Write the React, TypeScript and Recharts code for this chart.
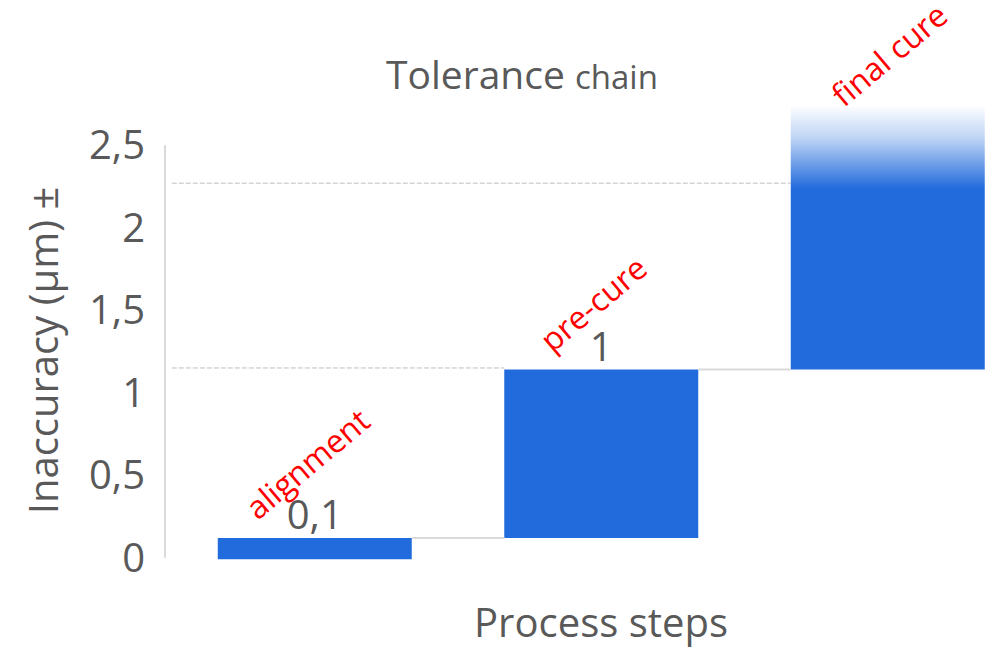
import React from 'react';
import { ComposedChart, Bar, XAxis, YAxis, ReferenceLine, LabelList, Cell } from 'recharts';

// ---- data ----
const categories = ['alignment', 'pre-cure', 'final cure'];
const positions = [0, 1, 2];
const lows = [-0.01, 0.12, 1.14];
const highs = [0.12, 1.14, 2.73];
const valueLabels = ['0,1', '1', ''];
const yTicks = [0, 0.5, 1, 1.5, 2, 2.5];
const dashedLevels = [1.15, 2.27];
const dashedStarts = [-0.5, -0.5];
const dashedEnds = [0.661, 1.661];
const connectorLevels = [0.12, 1.14];
const connectorStarts = [0.339, 1.339];
const connectorEnds = [0.661, 1.661];

const data = categories.map((name, i) => ({
  name,
  pos: positions[i],
  range: [lows[i], highs[i]],
  valueLabel: valueLabels[i],
}));

// ---- style ----
const BLUE = '#226BDC';
const GRAY_TEXT = '#595959';
const FONT = '"Open Sans", "Noto Sans", sans-serif';
const X_DOMAIN: [number, number] = [-0.5236, 2.356];
const Y_DOMAIN: [number, number] = [-0.02, 2.75];
const redOffsets = [
  [40, -17],
  [48, -16],
  [53, 1],
];

const ValueLabel = (props: any) => {
  const { x, y, width, value } = props;
  if (!value) return null;
  return (
    <text x={x + width / 2} y={y - 9} textAnchor="middle" fill={GRAY_TEXT} fontSize={40} fontFamily={FONT}>
      {value}
    </text>
  );
};

const RedLabel = (props: any) => {
  const { x, y, value, index } = props;
  const off = redOffsets[index] || [38, -15];
  return (
    <text
      transform={`translate(${x + off[0]},${y + off[1]}) rotate(-40)`}
      fill="#FF0000"
      fontSize={32}
      fontFamily={FONT}
    >
      {value}
    </text>
  );
};

const YLabel = (props: any) => {
  const vb = props.viewBox || {};
  const cx = vb.x + 42;
  const cy = vb.y + vb.height / 2 + 18;
  return (
    <text
      transform={`translate(${cx},${cy}) rotate(-90)`}
      textAnchor="middle"
      dominantBaseline="central"
      fill={GRAY_TEXT}
      fontSize={40}
      fontFamily={FONT}
    >
      Inaccuracy (µm) ±
    </text>
  );
};

const XLabel = (props: any) => {
  const vb = props.viewBox || {};
  return (
    <text x={vb.x + 436} y={vb.y + 76} textAnchor="middle" fill={GRAY_TEXT} fontSize={40} fontFamily={FONT}>
      Process steps
    </text>
  );
};

export default function App() {
  return (
    <div style={{ position: 'absolute', left: 0, top: 0, width: 996, height: 648, background: '#fff' }}>
      <ComposedChart
        width={996}
        height={648}
        data={data}
        margin={{ top: 104, right: 6, bottom: 0, left: 0 }}
      >
        <defs>
          <linearGradient id="fadeTop" x1="0" y1="0" x2="0" y2="1">
            <stop offset="0" stopColor={BLUE} stopOpacity={0.02} />
            <stop offset="0.12" stopColor={BLUE} stopOpacity={0.3} />
            <stop offset="0.31" stopColor={BLUE} stopOpacity={1} />
            <stop offset="1" stopColor={BLUE} stopOpacity={1} />
          </linearGradient>
        </defs>
        <text x={522} y={89} textAnchor="middle" fill={GRAY_TEXT} fontFamily={FONT}>
          <tspan fontSize={39}>Tolerance </tspan>
          <tspan fontSize={33}>chain</tspan>
        </text>
        <XAxis
          dataKey="pos"
          type="number"
          domain={X_DOMAIN}
          ticks={positions}
          tick={false}
          tickLine={false}
          axisLine={false}
          height={87}
          label={<XLabel />}
        />
        <YAxis
          type="number"
          domain={Y_DOMAIN}
          ticks={yTicks}
          width={165}
          axisLine={false}
          tickLine={false}
          tickMargin={14}
          tick={{ fill: GRAY_TEXT, fontSize: 40, fontFamily: FONT }}
          tickFormatter={(v: number) => String(v).replace('.', ',')}
          label={<YLabel />}
        />
        <ReferenceLine
          segment={[{ x: X_DOMAIN[0], y: 0 }, { x: X_DOMAIN[0], y: 2.5 }]}
          stroke="#D9D9D9"
          strokeWidth={2}
          ifOverflow="visible"
        />
        {dashedLevels.map((lv, i) => (
          <ReferenceLine
            key={'d' + i}
            segment={[{ x: dashedStarts[i], y: lv }, { x: dashedEnds[i], y: lv }]}
            stroke="#BFBFBF"
            strokeWidth={1}
            strokeDasharray="5 2"
            ifOverflow="visible"
          />
        ))}
        {connectorLevels.map((lv, i) => (
          <ReferenceLine
            key={'c' + i}
            segment={[{ x: connectorStarts[i], y: lv }, { x: connectorEnds[i], y: lv }]}
            stroke="#D9D9D9"
            strokeWidth={2}
            ifOverflow="visible"
          />
        ))}
        <Bar dataKey="range" barSize={194} isAnimationActive={false}>
          {data.map((d, i) => (
            <Cell key={i} fill={i === 2 ? 'url(#fadeTop)' : BLUE} />
          ))}
          <LabelList dataKey="valueLabel" content={<ValueLabel />} />
          <LabelList dataKey="name" content={<RedLabel />} />
        </Bar>
      </ComposedChart>
    </div>
  );
}
